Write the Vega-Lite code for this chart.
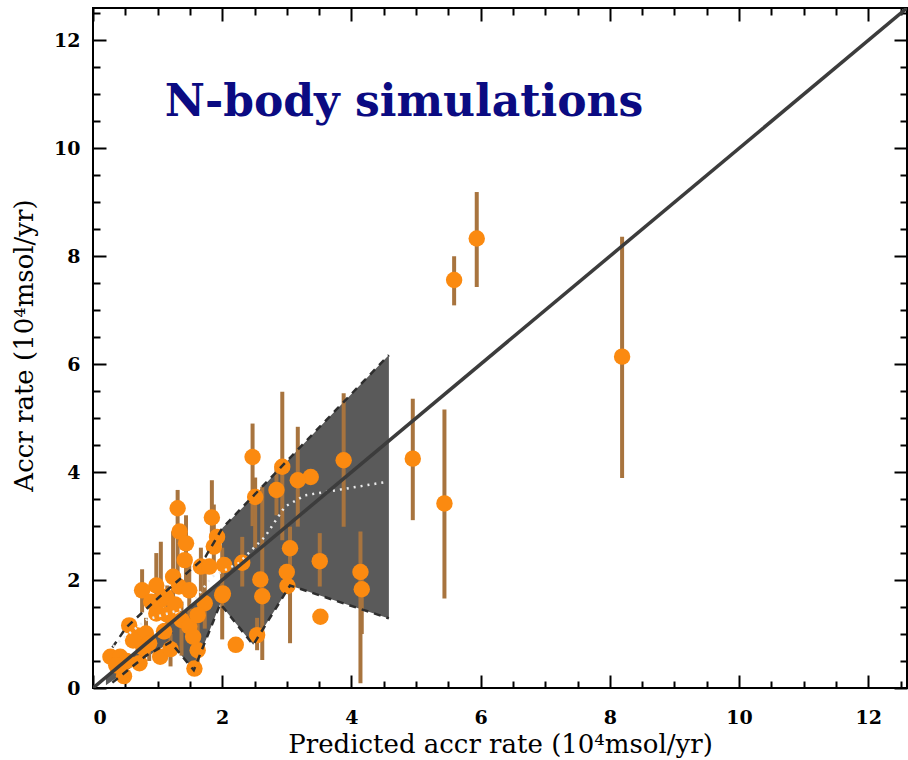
{
  "$schema": "https://vega.github.io/schema/vega-lite/v6.json",
  "width": 814,
  "height": 680,
  "autosize": {"type": "none"},
  "padding": {"left": 93, "top": 8, "right": 1, "bottom": 72},
  "background": "white",
  "config": {
    "view": {"stroke": "#000", "strokeWidth": 2},
    "axis": {
      "domain": false,
      "grid": false,
      "tickColor": "#000",
      "tickWidth": 2,
      "labelFont": "DejaVu Serif",
      "labelFontWeight": "bold",
      "labelFontSize": 19,
      "labelColor": "#000",
      "titleFont": "DejaVu Serif",
      "titleFontWeight": "normal",
      "titleFontSize": 26,
      "titleColor": "#000"
    }
  },
  "datasets": {
    "band": [
      {"x": 0.2, "lo": 0.05, "hi": 0.22},
      {"x": 0.8, "lo": 0.55, "hi": 0.8},
      {"x": 1.2, "lo": 0.85, "hi": 1.2},
      {"x": 1.56, "lo": 0.33, "hi": 1.56},
      {"x": 1.97, "lo": 1.56, "hi": 1.97},
      {"x": 2.0, "lo": 1.51, "hi": 2.96},
      {"x": 2.48, "lo": 0.8, "hi": 3.54},
      {"x": 3.05, "lo": 1.9, "hi": 4.26},
      {"x": 4.58, "lo": 1.29, "hi": 6.17}
    ],
    "bounds": [
      {"part": "upper", "x": 0.3, "y": 0.75},
      {"part": "upper", "x": 0.52, "y": 1.13},
      {"part": "upper", "x": 1.03, "y": 1.69},
      {"part": "upper", "x": 1.74, "y": 2.43},
      {"part": "upper", "x": 2.0, "y": 2.96},
      {"part": "upper", "x": 4.58, "y": 6.17},
      {"part": "lower", "x": 0.3, "y": 0.1},
      {"part": "lower", "x": 0.82, "y": 0.6},
      {"part": "lower", "x": 1.2, "y": 0.85},
      {"part": "lower", "x": 1.56, "y": 0.33},
      {"part": "lower", "x": 1.97, "y": 1.56},
      {"part": "lower", "x": 2.48, "y": 0.8},
      {"part": "lower", "x": 3.05, "y": 1.9},
      {"part": "lower", "x": 4.58, "y": 1.29}
    ],
    "median": [
      {"x": 0.31, "y": 0.77},
      {"x": 0.82, "y": 1.26},
      {"x": 1.49, "y": 1.5},
      {"x": 1.84, "y": 2.06},
      {"x": 2.25, "y": 2.31},
      {"x": 2.66, "y": 2.8},
      {"x": 2.97, "y": 3.36},
      {"x": 3.28, "y": 3.57},
      {"x": 3.79, "y": 3.67},
      {"x": 4.55, "y": 3.82}
    ],
    "oneToOne": [
      {"x": 0, "y": 0},
      {"x": 12.6, "y": 12.6}
    ],
    "sims": [
      {"x": 8.19, "y": 6.14, "lo": 3.89, "hi": 8.36},
      {"x": 5.94, "y": 8.33, "lo": 7.43, "hi": 9.19},
      {"x": 5.59, "y": 7.56, "lo": 7.09, "hi": 8.0},
      {"x": 4.95, "y": 4.25, "lo": 3.11, "hi": 5.36},
      {"x": 5.44, "y": 3.42, "lo": 1.66, "hi": 5.16},
      {"x": 3.88, "y": 4.22, "lo": 2.99, "hi": 5.46},
      {"x": 3.52, "y": 1.32, "lo": 1.25, "hi": 1.4},
      {"x": 3.51, "y": 2.35, "lo": 1.88, "hi": 2.87},
      {"x": 4.14, "y": 2.15, "lo": 0.09, "hi": 2.9},
      {"x": 4.16, "y": 1.83, "lo": 1.0, "hi": 2.2},
      {"x": 3.37, "y": 3.91, "lo": 3.8, "hi": 4.0},
      {"x": 3.17, "y": 3.85, "lo": 2.99, "hi": 4.84},
      {"x": 2.93, "y": 4.1, "lo": 2.74, "hi": 5.49},
      {"x": 2.84, "y": 3.67, "lo": 3.2, "hi": 4.1},
      {"x": 2.47, "y": 4.28, "lo": 3.0, "hi": 4.9},
      {"x": 2.51, "y": 3.54, "lo": 2.6, "hi": 3.9},
      {"x": 3.05, "y": 2.59, "lo": 0.83, "hi": 2.99},
      {"x": 3.0, "y": 2.15, "lo": 2.0, "hi": 2.3},
      {"x": 3.01, "y": 1.89, "lo": 1.8, "hi": 2.0},
      {"x": 2.62, "y": 1.7, "lo": 0.52, "hi": 3.73},
      {"x": 2.54, "y": 0.98, "lo": 0.7, "hi": 1.3},
      {"x": 2.59, "y": 2.01, "lo": 1.9, "hi": 2.1},
      {"x": 2.31, "y": 2.32, "lo": 1.88, "hi": 2.8},
      {"x": 2.21, "y": 0.8, "lo": 0.75, "hi": 0.85},
      {"x": 2.0, "y": 1.72, "lo": 0.9, "hi": 2.6},
      {"x": 2.03, "y": 2.28, "lo": 2.2, "hi": 2.4},
      {"x": 1.84, "y": 3.16, "lo": 2.74, "hi": 3.85},
      {"x": 1.87, "y": 2.62, "lo": 2.2, "hi": 3.4},
      {"x": 1.92, "y": 2.8, "lo": 2.7, "hi": 2.9},
      {"x": 1.73, "y": 1.57, "lo": 1.1, "hi": 2.3},
      {"x": 1.57, "y": 0.36, "lo": 0.3, "hi": 0.45},
      {"x": 1.62, "y": 0.7, "lo": 0.3, "hi": 1.2},
      {"x": 1.31, "y": 3.33, "lo": 2.0, "hi": 3.67},
      {"x": 1.34, "y": 2.9, "lo": 2.8, "hi": 3.0},
      {"x": 1.44, "y": 2.68, "lo": 1.8, "hi": 3.2},
      {"x": 1.42, "y": 2.37, "lo": 2.3, "hi": 2.45},
      {"x": 1.67, "y": 2.25, "lo": 1.5, "hi": 2.6},
      {"x": 1.24, "y": 2.06, "lo": 1.3, "hi": 2.9},
      {"x": 1.33, "y": 1.88, "lo": 1.8, "hi": 1.95},
      {"x": 1.49, "y": 1.81, "lo": 1.2, "hi": 2.4},
      {"x": 0.98, "y": 1.9, "lo": 1.39, "hi": 2.5},
      {"x": 0.76, "y": 1.81, "lo": 1.4, "hi": 2.2},
      {"x": 1.05, "y": 1.63, "lo": 1.26, "hi": 2.71},
      {"x": 1.13, "y": 1.69, "lo": 1.6, "hi": 1.8},
      {"x": 2.01, "y": 1.75, "lo": 1.7, "hi": 1.8},
      {"x": 1.37, "y": 1.26, "lo": 0.6, "hi": 1.6},
      {"x": 1.49, "y": 1.14, "lo": 1.05, "hi": 1.25},
      {"x": 1.55, "y": 0.95, "lo": 0.85, "hi": 1.05},
      {"x": 0.98, "y": 1.38, "lo": 1.3, "hi": 1.45},
      {"x": 1.15, "y": 1.36, "lo": 1.0, "hi": 1.9},
      {"x": 0.56, "y": 1.16, "lo": 1.1, "hi": 1.25},
      {"x": 0.67, "y": 0.98, "lo": 0.9, "hi": 1.05},
      {"x": 0.82, "y": 1.01, "lo": 0.75, "hi": 1.3},
      {"x": 1.04, "y": 0.58, "lo": 0.5, "hi": 0.7},
      {"x": 0.27, "y": 0.58, "lo": 0.5, "hi": 0.65},
      {"x": 0.42, "y": 0.58, "lo": 0.5, "hi": 0.65},
      {"x": 0.48, "y": 0.22, "lo": 0.15, "hi": 0.3},
      {"x": 0.52, "y": 0.5, "lo": 0.4, "hi": 0.6},
      {"x": 0.87, "y": 0.83, "lo": 0.5, "hi": 1.1},
      {"x": 0.78, "y": 0.74, "lo": 0.7, "hi": 0.8},
      {"x": 0.72, "y": 0.46, "lo": 0.4, "hi": 0.55},
      {"x": 1.2, "y": 0.72, "lo": 0.4, "hi": 1.0},
      {"x": 0.62, "y": 0.88, "lo": 0.8, "hi": 0.95},
      {"x": 1.1, "y": 1.05, "lo": 0.9, "hi": 1.2},
      {"x": 0.36, "y": 0.42, "lo": 0.35, "hi": 0.5},
      {"x": 1.27, "y": 1.55, "lo": 1.45, "hi": 1.65},
      {"x": 1.62, "y": 1.35, "lo": 1.25, "hi": 1.45},
      {"x": 0.9, "y": 1.6, "lo": 1.5, "hi": 1.7},
      {"x": 1.8, "y": 2.25, "lo": 2.15, "hi": 2.35}
    ],
    "heading": [
      {"label": "N-body simulations", "x": 1.11, "y": 10.6}
    ]
  },
  "layer": [
    {
      "data": {"name": "band"},
      "mark": {"type": "area", "color": "#5a5a5a", "opacity": 1},
      "encoding": {
        "x": {
          "field": "x", "type": "quantitative",
          "scale": {"domain": [0, 12.6], "nice": false, "zero": false},
          "axis": {
            "orient": "bottom",
            "values": [0, 2, 4, 6, 8, 10, 12],
            "tickSize": -13,
            "labelPadding": 33,
            "format": "d",
            "title": "Predicted accr rate (10⁴msol/yr)",
            "titleY": 64,
            "titleBaseline": "alphabetic"
          }
        },
        "y": {
          "field": "hi", "type": "quantitative",
          "scale": {"domain": [0, 12.6], "nice": false, "zero": false},
          "axis": {
            "orient": "left",
            "values": [0, 2, 4, 6, 8, 10, 12],
            "tickSize": -13,
            "labelPadding": 26,
            "format": "d",
            "title": "Accr rate (10⁴msol/yr)",
            "titleX": -69,
            "titleY": 337,
            "titleAngle": -90,
            "titleAlign": "center",
            "titleBaseline": "middle"
          }
        },
        "y2": {"field": "lo"}
      }
    },
    {
      "data": {"name": "sims"},
      "mark": {"type": "rule", "color": "#a8743e", "strokeWidth": 4},
      "encoding": {
        "x": {
          "field": "x", "type": "quantitative",
          "scale": {"domain": [0, 12.6], "nice": false, "zero": false},
          "axis": {
            "orient": "bottom",
            "values": [0.5, 1, 1.5, 2.5, 3, 3.5, 4.5, 5, 5.5, 6.5, 7, 7.5, 8.5, 9, 9.5, 10.5, 11, 11.5, 12.5],
            "tickSize": -7,
            "labels": false,
            "title": null
          }
        },
        "y": {
          "field": "lo", "type": "quantitative",
          "scale": {"domain": [0, 12.6], "nice": false, "zero": false},
          "axis": {
            "orient": "left",
            "values": [0.5, 1, 1.5, 2.5, 3, 3.5, 4.5, 5, 5.5, 6.5, 7, 7.5, 8.5, 9, 9.5, 10.5, 11, 11.5, 12.5],
            "tickSize": -7,
            "labels": false,
            "title": null
          }
        },
        "y2": {"field": "hi"}
      }
    },
    {
      "data": {"name": "sims"},
      "mark": {"type": "point", "filled": true, "shape": "circle", "size": 270, "color": "#fb8a10", "opacity": 1},
      "encoding": {
        "x": {
          "field": "x", "type": "quantitative",
          "scale": {"domain": [0, 12.6], "nice": false, "zero": false},
          "axis": {
            "orient": "top",
            "values": [0, 2, 4, 6, 8, 10, 12],
            "tickSize": -13,
            "labels": false,
            "title": null
          }
        },
        "y": {
          "field": "y", "type": "quantitative",
          "scale": {"domain": [0, 12.6], "nice": false, "zero": false},
          "axis": {
            "orient": "right",
            "values": [0, 2, 4, 6, 8, 10, 12],
            "tickSize": -13,
            "labels": false,
            "title": null
          }
        }
      }
    },
    {
      "data": {"name": "bounds"},
      "mark": {"type": "line", "color": "#2e2e2e", "strokeWidth": 2.5, "strokeDash": [7, 6]},
      "encoding": {
        "x": {
          "field": "x", "type": "quantitative",
          "scale": {"domain": [0, 12.6], "nice": false, "zero": false},
          "axis": {
            "orient": "top",
            "values": [0.5, 1, 1.5, 2.5, 3, 3.5, 4.5, 5, 5.5, 6.5, 7, 7.5, 8.5, 9, 9.5, 10.5, 11, 11.5, 12.5],
            "tickSize": -7,
            "labels": false,
            "title": null
          }
        },
        "y": {
          "field": "y", "type": "quantitative",
          "scale": {"domain": [0, 12.6], "nice": false, "zero": false},
          "axis": {
            "orient": "right",
            "values": [0.5, 1, 1.5, 2.5, 3, 3.5, 4.5, 5, 5.5, 6.5, 7, 7.5, 8.5, 9, 9.5, 10.5, 11, 11.5, 12.5],
            "tickSize": -7,
            "labels": false,
            "title": null
          }
        },
        "detail": {"field": "part"}
      }
    },
    {
      "data": {"name": "median"},
      "mark": {"type": "line", "color": "#ececec", "strokeWidth": 2.5, "strokeDash": [2, 5]},
      "encoding": {
        "x": {"field": "x", "type": "quantitative", "axis": null},
        "y": {"field": "y", "type": "quantitative", "axis": null}
      }
    },
    {
      "data": {"name": "oneToOne"},
      "mark": {"type": "line", "color": "#3c3c3c", "strokeWidth": 3.5, "clip": true},
      "encoding": {
        "x": {"field": "x", "type": "quantitative", "axis": null},
        "y": {"field": "y", "type": "quantitative", "axis": null}
      }
    },
    {
      "data": {"name": "heading"},
      "mark": {
        "type": "text",
        "align": "left",
        "baseline": "alphabetic",
        "font": "DejaVu Serif",
        "fontWeight": "bold",
        "fontSize": 44,
        "color": "#0b0b82"
      },
      "encoding": {
        "x": {"field": "x", "type": "quantitative", "axis": null},
        "y": {"field": "y", "type": "quantitative", "axis": null},
        "text": {"field": "label"}
      }
    }
  ],
  "resolve": {"axis": {"x": "independent", "y": "independent"}}
}
